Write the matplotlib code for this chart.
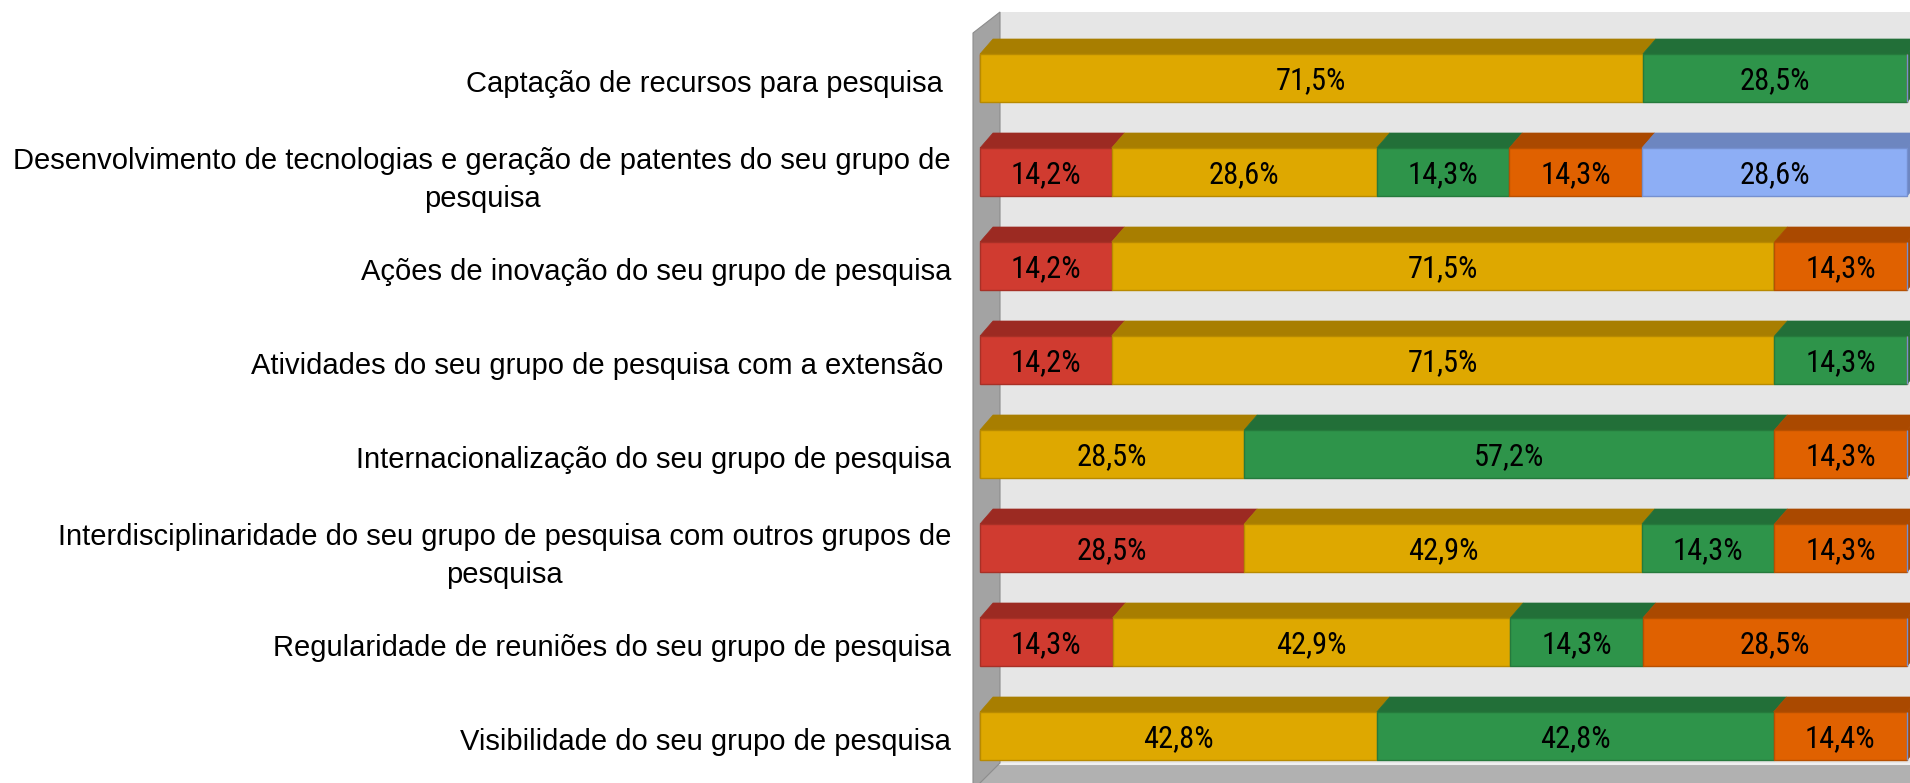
import matplotlib
matplotlib.use("Agg")
import matplotlib.pyplot as plt
from matplotlib.patches import Polygon
import numpy as np
import logging
logging.getLogger("matplotlib.font_manager").setLevel(logging.ERROR)

categories = [
    "Captação de recursos para pesquisa ",
    "Desenvolvimento de tecnologias e geração de patentes do seu grupo de\npesquisa",
    "Ações de inovação do seu grupo de pesquisa",
    "Atividades do seu grupo de pesquisa com a extensão ",
    "Internacionalização do seu grupo de pesquisa",
    "Interdisciplinaridade do seu grupo de pesquisa com outros grupos de\npesquisa",
    "Regularidade de reuniões do seu grupo de pesquisa",
    "Visibilidade do seu grupo de pesquisa",
]
s_red = [0, 14.2, 14.2, 14.2, 0, 28.5, 14.3, 0]
s_yellow = [71.5, 28.6, 71.5, 71.5, 28.5, 42.9, 42.9, 42.8]
s_green = [28.5, 14.3, 0, 14.3, 57.2, 14.3, 14.3, 42.8]
s_orange = [0, 14.3, 14.3, 0, 14.3, 14.3, 28.5, 14.4]
s_blue = [0, 28.6, 0, 0, 0, 0, 0, 0]

series = [s_red, s_yellow, s_green, s_orange, s_blue]
front_colors = ["#d03b30", "#dea800", "#2e944a", "#e06100", "#8daef5"]
top_colors = ["#9c2a22", "#a87e00", "#226f38", "#aa4900", "#6d86c0"]
edge_colors = ["#a83026", "#b88a00", "#257a3c", "#b85000", "#7590d0"]

W, H = 1910, 783
fig = plt.figure(figsize=(W / 100, H / 100), dpi=100)
ax = fig.add_axes([0, 0, 1, 1])

# mapping: x data 0..100 -> px 980..1907 ; y data i -> px 78 + 94 i
x0px, x100px = 980, 1907
sx = (x100px - x0px) / 100.0
def px2x(p):
    return (p - x0px) / sx
yc0, dyc = 78, 94
def py2y(p):
    return (p - yc0) / dyc

ax.set_xlim(px2x(0), px2x(W))
ax.set_ylim(py2y(H), py2y(0))
ax.axis("off")

label_font = ["Liberation Sans", "DejaVu Sans"]
value_font = ["Roboto Condensed", "Fira Sans Condensed", "Liberation Sans"]

# walls
back = Polygon([(px2x(1000), py2y(12)), (px2x(1912), py2y(12)),
                (px2x(1912), py2y(763)), (px2x(1000), py2y(763))],
               closed=True, facecolor="#e6e6e6", edgecolor="none", zorder=0)
ax.add_patch(back)
side = Polygon([(px2x(973), py2y(33)), (px2x(1000), py2y(12)),
                (px2x(1000), py2y(763)), (px2x(973), py2y(790))],
               closed=True, facecolor="#a3a3a3", edgecolor="#8c8c8c", lw=0.8, zorder=0.5)
ax.add_patch(side)
floor = Polygon([(px2x(973), py2y(790)), (px2x(1000), py2y(763)),
                 (px2x(1912), py2y(763)), (px2x(1912), py2y(790))],
                closed=True, facecolor="#b1b1b1", edgecolor="none", zorder=0.4)
ax.add_patch(floor)
ax.plot([px2x(1000), px2x(1912)], [py2y(764), py2y(764)], color="#f0f0f0", lw=1.5, zorder=0.45)

bar_h = 48 / dyc
ddx = 13 / sx
ddy = 15 / dyc

y = np.arange(len(categories))
left = np.zeros(len(categories))
for k, vals in enumerate(series):
    vals = np.array(vals, dtype=float)
    bars = ax.barh(y, vals, left=left, height=bar_h, color=front_colors[k],
                   edgecolor=edge_colors[k], linewidth=1.0, zorder=2)
    for i, (b, v) in enumerate(zip(bars, vals)):
        if v <= 0:
            continue
        xa, xb = left[i], left[i] + v
        yt = y[i] - bar_h / 2
        yb = y[i] + bar_h / 2
        top = Polygon([(xa, yt), (xb, yt), (xb + ddx, yt - ddy), (xa + ddx, yt - ddy)],
                      closed=True, facecolor=top_colors[k], edgecolor=top_colors[k],
                      lw=0.5, zorder=1.5)
        ax.add_patch(top)
        if abs(xb - 100) < 0.01:
            sidef = Polygon([(xb, yt), (xb + ddx, yt - ddy), (xb + ddx, yb - ddy), (xb, yb)],
                            closed=True, facecolor=top_colors[k], edgecolor=top_colors[k],
                            lw=0.5, zorder=1.5)
            ax.add_patch(sidef)
        ax.text((xa + xb) / 2, y[i], f"{v:.1f}%".replace(".", ","),
                ha="center", va="center_baseline", fontsize=22, family=value_font,
                color="black", zorder=3)
    left = left + vals

# category labels
for i, cat in enumerate(categories):
    dy_px = 8 if "\n" in cat else 6
    ax.text(px2x(951), y[i] + dy_px / dyc, cat, ha="right", va="center",
            multialignment="center", fontsize=21, family=label_font,
            color="black", linespacing=1.45)

fig.savefig("out.png", dpi=100, facecolor="white")
